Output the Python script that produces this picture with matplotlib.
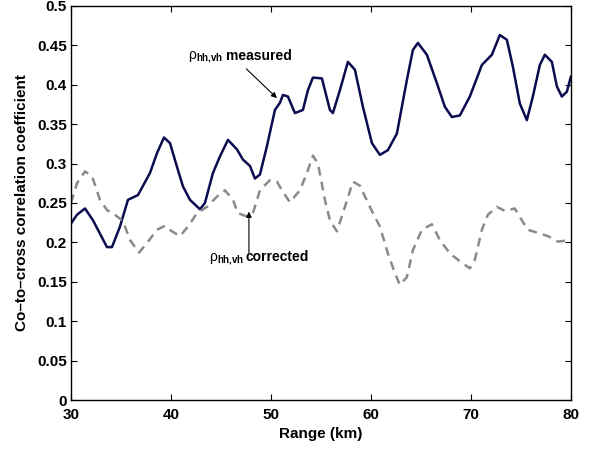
import matplotlib
matplotlib.use("Agg")
import matplotlib.pyplot as plt

plt.rcParams['font.family'] = ['Liberation Sans', 'DejaVu Sans']
plt.rcParams['mathtext.fontset'] = 'custom'
plt.rcParams['mathtext.rm'] = 'Liberation Sans'
plt.rcParams['mathtext.bf'] = 'Liberation Sans:bold'
plt.rcParams['mathtext.it'] = 'Liberation Sans:italic'

# measured co-to-cross correlation
range_meas = [30.0, 30.6, 31.4, 32.2, 33.6, 34.1, 34.9, 35.7, 36.7, 37.9, 38.6, 39.3,
              39.9, 40.6, 41.2, 41.9, 42.9, 43.4, 44.2, 44.9, 45.7, 46.6, 47.2, 47.9,
              48.4, 48.9, 49.6, 50.4, 50.9, 51.2, 51.7, 52.4, 53.2, 53.7, 54.2, 55.1,
              55.9, 56.2, 56.9, 57.7, 58.4, 59.2, 60.1, 60.9, 61.7, 62.6, 63.6, 64.2,
              64.7, 65.6, 66.6, 67.4, 68.1, 68.9, 69.9, 71.1, 72.1, 72.9, 73.6, 74.2,
              74.9, 75.6, 76.2, 76.9, 77.4, 78.1, 78.6, 79.1, 79.6, 80.0]
rho_meas = [0.224, 0.235, 0.243, 0.228, 0.194, 0.194, 0.220, 0.254, 0.260, 0.288, 0.313, 0.333,
            0.326, 0.296, 0.271, 0.254, 0.242, 0.250, 0.288, 0.309, 0.330, 0.318, 0.305, 0.297,
            0.281, 0.286, 0.322, 0.368, 0.377, 0.387, 0.385, 0.364, 0.368, 0.393, 0.409, 0.408,
            0.368, 0.364, 0.393, 0.429, 0.419, 0.372, 0.326, 0.311, 0.317, 0.338, 0.406, 0.444,
            0.453, 0.438, 0.402, 0.372, 0.359, 0.361, 0.385, 0.425, 0.438, 0.463, 0.457, 0.423,
            0.376, 0.355, 0.385, 0.425, 0.438, 0.429, 0.398, 0.385, 0.391, 0.410]

# corrected
range_corr = [30.0, 30.6, 31.4, 32.1, 32.9, 33.6, 34.4, 35.2, 35.9, 36.8, 37.6, 38.6,
              39.4, 40.1, 40.9, 41.7, 42.6, 43.6, 44.6, 45.4, 46.2, 46.7, 47.6, 48.2,
              48.9, 49.9, 50.6, 51.2, 51.9, 52.9, 53.6, 54.2, 54.7, 55.4, 55.9, 56.6,
              57.2, 58.2, 58.9, 59.9, 60.9, 61.7, 62.4, 62.9, 63.6, 64.2, 65.1, 66.1,
              66.9, 67.9, 68.9, 69.9, 70.4, 71.1, 71.7, 72.6, 73.4, 74.4, 75.1, 75.7,
              76.7, 77.7, 78.7, 80.0]
rho_corr = [0.250, 0.275, 0.290, 0.284, 0.254, 0.241, 0.235, 0.227, 0.203, 0.187, 0.199, 0.216,
            0.221, 0.214, 0.208, 0.220, 0.237, 0.245, 0.258, 0.266, 0.254, 0.237, 0.233, 0.237,
            0.266, 0.279, 0.277, 0.264, 0.251, 0.266, 0.288, 0.310, 0.300, 0.254, 0.228, 0.214,
            0.237, 0.277, 0.272, 0.245, 0.220, 0.186, 0.161, 0.146, 0.156, 0.190, 0.216, 0.223,
            0.203, 0.186, 0.176, 0.167, 0.178, 0.216, 0.235, 0.245, 0.240, 0.243, 0.228, 0.216,
            0.212, 0.208, 0.201, 0.203]

fig = plt.figure(figsize=(5.94, 4.51), dpi=100)
ax = fig.add_axes([0.1195, 0.113, 0.8415, 0.874])

ax.plot(range_meas, rho_meas, color='#0b0b4f', lw=1.8)
ax.plot(range_corr, rho_corr, color='#8a8a8a', lw=1.8, dashes=(3.5, 2.5))

ax.set_xlim(30, 80)
ax.set_ylim(0, 0.5)
ax.set_xticks([30, 40, 50, 60, 70, 80])
yt = [0, 0.05, 0.1, 0.15, 0.2, 0.25, 0.3, 0.35, 0.4, 0.45, 0.5]
ax.set_yticks(yt)
ax.set_yticklabels(['%g' % v for v in yt])
ax.tick_params(direction='in', top=True, right=True, length=4, width=0.8, labelsize=11)
ax.tick_params(axis='x', pad=6)
ax.tick_params(axis='y', pad=3)
for lab in ax.get_xticklabels() + ax.get_yticklabels():
    lab.set_fontweight('bold')
for s in ax.spines.values():
    s.set_linewidth(1.0)

ax.set_xlabel('Range (km)', fontsize=11, fontweight='bold', labelpad=3)
ax.set_ylabel('Co\u2013to\u2013cross correlation coefficient', fontsize=11, fontweight='bold', labelpad=6)

arrow = dict(arrowstyle='-|>', color='black', lw=0.8, mutation_scale=8, shrinkA=0, shrinkB=0)

ax.text(41.7, 0.433, r'$\mathrm{\rho}_{\mathbf{hh{,}vh}}$', fontsize=10, va='baseline')
ax.text(45.5, 0.431, 'measured', fontsize=10, fontweight='bold', va='baseline')
ax.annotate('', xy=(50.6, 0.383), xytext=(47.55, 0.420), arrowprops=arrow)

ax.text(43.8, 0.176, r'$\mathrm{\rho}_{\mathbf{hh{,}vh}}$', fontsize=10, va='baseline')
ax.text(47.5, 0.176, 'corrected', fontsize=10, fontweight='bold', va='baseline')
ax.annotate('', xy=(47.8, 0.239), xytext=(47.8, 0.187), arrowprops=arrow)

fig.savefig('out.png', dpi=100)
